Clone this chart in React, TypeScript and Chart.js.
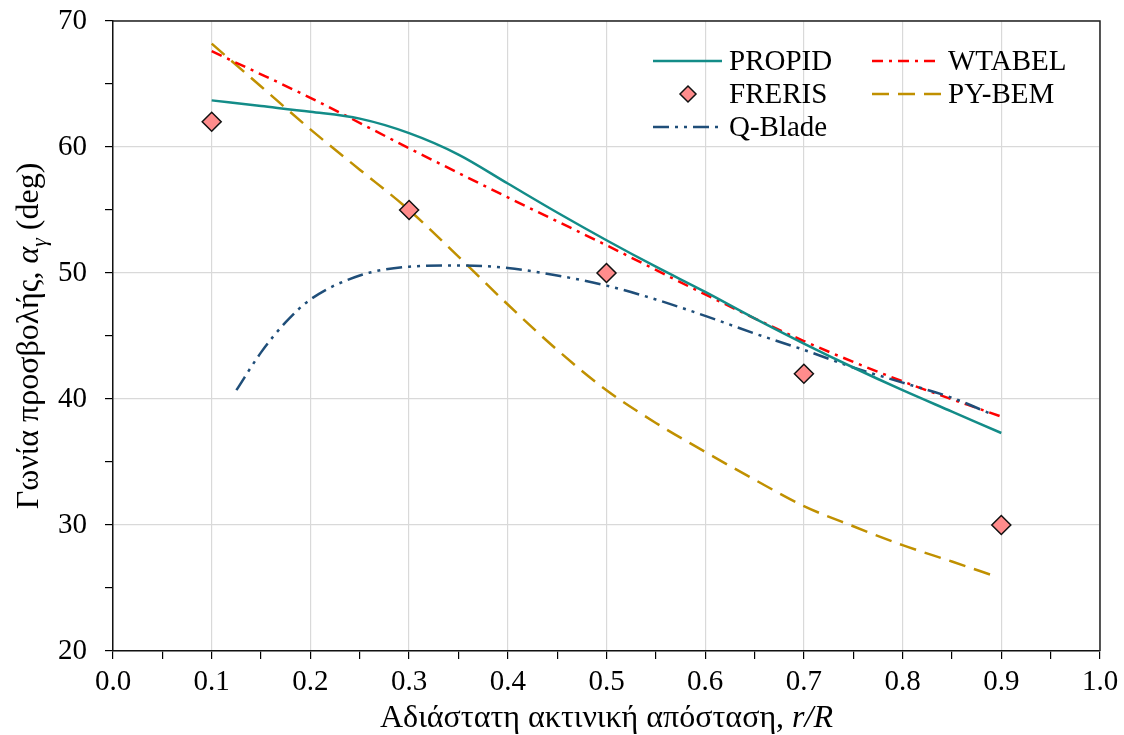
import React, { useEffect, useRef } from 'react';
import { Chart, registerables } from 'chart.js';

Chart.register(...registerables);

const FONT = "'Liberation Serif', 'Times New Roman', serif";

// ---- data ----
const xTickLabels = ['0.0', '0.1', '0.2', '0.3', '0.4', '0.5', '0.6', '0.7', '0.8', '0.9', '1.0'];
const yTickLabels = ['20', '30', '40', '50', '60', '70'];

const propidX = [0.1, 0.15, 0.2, 0.25, 0.3, 0.35, 0.4, 0.45, 0.5, 0.55, 0.6, 0.65, 0.7, 0.75, 0.8, 0.85, 0.9];
const propidY = [63.7, 63.25, 62.8, 62.25, 61.1, 59.4, 57.1, 54.8, 52.6, 50.5, 48.5, 46.4, 44.4, 42.5, 40.7, 39.0, 37.3];

const frerisX = [0.1, 0.3, 0.5, 0.7, 0.9];
const frerisY = [62, 55, 50, 42, 30];

const qbladeX = [0.125, 0.15, 0.175, 0.2, 0.25, 0.3, 0.35, 0.4, 0.45, 0.5, 0.55, 0.6, 0.65, 0.7, 0.75, 0.8, 0.85, 0.89];
const qbladeY = [40.7, 43.7, 46.1, 47.9, 49.8, 50.5, 50.6, 50.4, 49.8, 49.0, 47.9, 46.6, 45.2, 43.9, 42.5, 41.3, 40.1, 38.8];

const wtabelX = [0.1, 0.2, 0.3, 0.4, 0.5, 0.6, 0.7, 0.8, 0.9];
const wtabelY = [67.6, 63.9, 59.9, 56.0, 52.2, 48.3, 44.6, 41.4, 38.6];

const pybemX = [0.1, 0.15, 0.2, 0.25, 0.3, 0.35, 0.4, 0.45, 0.5, 0.55, 0.6, 0.65, 0.7, 0.75, 0.8, 0.85, 0.895];
const pybemY = [68.2, 64.8, 61.4, 58.2, 55.0, 51.3, 47.5, 43.9, 40.7, 38.1, 35.8, 33.6, 31.5, 29.9, 28.4, 27.1, 25.9];

const pts = (xs: number[], ys: number[]) => xs.map((x, i) => ({ x, y: ys[i] }));

type Run = { t: string; it?: boolean; sub?: boolean };
const fontFor = (r: Run, size: number) => `${r.it ? 'italic ' : ''}${r.sub ? size * 0.68 : size}px ${FONT}`;
function runsWidth(ctx: CanvasRenderingContext2D, runs: Run[], size: number) {
  let w = 0;
  for (const r of runs) {
    ctx.font = fontFor(r, size);
    w += ctx.measureText(r.t).width;
  }
  return w;
}
function drawRuns(ctx: CanvasRenderingContext2D, runs: Run[], size: number, x: number, y: number) {
  let cx = x;
  for (const r of runs) {
    ctx.font = fontFor(r, size);
    ctx.fillText(r.t, cx, y + (r.sub ? size * 0.25 : 0));
    cx += ctx.measureText(r.t).width;
  }
}

const xTitleRuns: Run[] = [{ t: 'Αδιάστατη ακτινική απόσταση, ' }, { t: 'r/R', it: true }];
const yTitleRuns: Run[] = [{ t: 'Γωνία προσβολής, ' }, { t: 'α', it: true }, { t: 'γ', it: true, sub: true }, { t: ' (deg)' }];

const TITLE_SIZE = 32;
const LEGEND_SIZE = 29;
const TICK_SIZE = 29;

// legend layout: [datasetIndex, column, row]
const legendLayout: [number, number, number][] = [
  [1, 0, 0],
  [0, 0, 1],
  [2, 0, 2],
  [3, 1, 0],
  [4, 1, 1],
];

const decorPlugin = {
  id: 'decor',
  afterDraw(chart: any) {
    const { ctx, chartArea } = chart;
    const { left, right, top, bottom } = chartArea;
    ctx.save();
    // frame top / right
    ctx.strokeStyle = '#222';
    ctx.lineWidth = 1.5;
    ctx.beginPath();
    ctx.moveTo(left, top);
    ctx.lineTo(right, top);
    ctx.lineTo(right, bottom);
    ctx.stroke();

    // titles
    ctx.fillStyle = '#000';
    ctx.textBaseline = 'alphabetic';
    ctx.textAlign = 'left';
    const xw = runsWidth(ctx, xTitleRuns, TITLE_SIZE);
    drawRuns(ctx, xTitleRuns, TITLE_SIZE, (left + right) / 2 - xw / 2, 727);

    const yw = runsWidth(ctx, yTitleRuns, TITLE_SIZE);
    ctx.save();
    ctx.translate(38, (top + bottom) / 2);
    ctx.rotate(-Math.PI / 2);
    drawRuns(ctx, yTitleRuns, TITLE_SIZE, -yw / 2, 0);
    ctx.restore();

    // legend
    const colX = [right - 447, right - 228];
    const rowY = [top + 40, top + 73, top + 106];
    for (const [di, c, r] of legendLayout) {
      const ds = chart.data.datasets[di];
      const x0 = colX[c];
      const y = rowY[r];
      if (ds.showLine === false) {
        ctx.save();
        ctx.beginPath();
        const rad = 8;
        ctx.moveTo(x0 + 35 - rad, y);
        ctx.lineTo(x0 + 35, y - rad);
        ctx.lineTo(x0 + 35 + rad, y);
        ctx.lineTo(x0 + 35, y + rad);
        ctx.closePath();
        ctx.fillStyle = ds.pointBackgroundColor;
        ctx.fill();
        ctx.strokeStyle = ds.pointBorderColor;
        ctx.lineWidth = 1.5;
        ctx.stroke();
        ctx.restore();
      } else {
        ctx.save();
        ctx.strokeStyle = ds.borderColor;
        ctx.lineWidth = ds.borderWidth;
        ctx.setLineDash(ds.borderDash || []);
        ctx.beginPath();
        ctx.moveTo(x0, y);
        ctx.lineTo(x0 + 69, y);
        ctx.stroke();
        ctx.restore();
      }
      ctx.fillStyle = '#000';
      ctx.font = `${LEGEND_SIZE}px ${FONT}`;
      ctx.textBaseline = 'middle';
      ctx.fillText(ds.label, x0 + 76, y + 1);
    }
    ctx.restore();
  },
};

export default function App() {
  const ref = useRef<HTMLCanvasElement | null>(null);
  useEffect(() => {
    if (!ref.current) return;
    const lineCommon = {
      showLine: true,
      pointRadius: 0,
      pointHoverRadius: 0,
      borderWidth: 2.5,
      tension: 0.4,
      cubicInterpolationMode: 'monotone' as const,
      fill: false,
    };
    const chart = new Chart(ref.current, {
      type: 'scatter',
      data: {
        datasets: [
          {
            label: 'FRERIS',
            data: pts(frerisX, frerisY),
            showLine: false,
            pointStyle: 'rectRot',
            pointRadius: 9.5,
            pointHoverRadius: 9.5,
            pointBackgroundColor: '#FF8C8C',
            pointBorderColor: '#111',
            pointBorderWidth: 1.5,
            backgroundColor: '#FF8C8C',
            borderColor: '#111',
          } as any,
          {
            label: 'PROPID',
            data: pts(propidX, propidY),
            borderColor: '#138C88',
            ...lineCommon,
          },
          {
            label: 'Q-Blade',
            data: pts(qbladeX, qbladeY),
            borderColor: '#1F4E79',
            borderDash: [16, 6, 3, 6, 3, 6],
            ...lineCommon,
          },
          {
            label: 'WTABEL',
            data: pts(wtabelX, wtabelY),
            borderColor: '#FF0000',
            borderDash: [11, 6, 3, 6],
            ...lineCommon,
          },
          {
            label: 'PY-BEM',
            data: pts(pybemX, pybemY),
            borderColor: '#C09000',
            borderDash: [17, 9],
            ...lineCommon,
          },
        ],
      },
      options: {
        animation: false,
        responsive: false,
        devicePixelRatio: 1,
        layout: { padding: { top: 21, right: 24, left: 0, bottom: 0 }, autoPadding: false },
        plugins: {
          legend: { display: false },
          tooltip: { enabled: false },
        },
        scales: {
          x: {
            type: 'linear',
            min: 0,
            max: 1,
            afterFit: (s: any) => {
              s.height = 84;
              s.paddingLeft = 0;
              s.paddingRight = 0;
            },
            ticks: {
              stepSize: 0.05,
              autoSkip: false,
              maxRotation: 0,
              padding: 6,
              color: '#000',
              font: { family: FONT, size: TICK_SIZE },
              callback: (v: any) => {
                const i = Math.round(Number(v) * 100);
                return i % 10 === 0 ? xTickLabels[i / 10] : '';
              },
            },
            grid: {
              color: (c: any) => (Math.round(c.tick.value * 100) % 10 === 0 ? '#D9D9D9' : 'rgba(0,0,0,0)'),
              lineWidth: 1.2,
              tickColor: '#000',
              tickLength: 8,
              drawTicks: true,
            },
            border: { color: '#111', width: 1.5 },
          },
          y: {
            type: 'linear',
            min: 20,
            max: 70,
            afterFit: (s: any) => {
              s.width = 113;
              s.paddingTop = 0;
              s.paddingBottom = 0;
            },
            ticks: {
              stepSize: 5,
              autoSkip: false,
              padding: 18,
              color: '#000',
              font: { family: FONT, size: TICK_SIZE },
              callback: (v: any) => {
                const n = Math.round(Number(v));
                return n % 10 === 0 ? yTickLabels[(n - 20) / 10] : '';
              },
            },
            grid: {
              color: (c: any) => (Math.round(c.tick.value) % 10 === 0 ? '#D9D9D9' : 'rgba(0,0,0,0)'),
              lineWidth: 1.2,
              tickColor: '#000',
              tickLength: 8,
              drawTicks: true,
            },
            border: { color: '#111', width: 1.5 },
          },
        },
      },
      plugins: [decorPlugin],
    });
    return () => chart.destroy();
  }, []);
  return (
    <div style={{ position: 'fixed', left: 0, top: 0, width: 1124, height: 735, background: '#fff' }}>
      <canvas ref={ref} width={1124} height={735} style={{ width: 1124, height: 735, display: 'block' }} />
    </div>
  );
}
